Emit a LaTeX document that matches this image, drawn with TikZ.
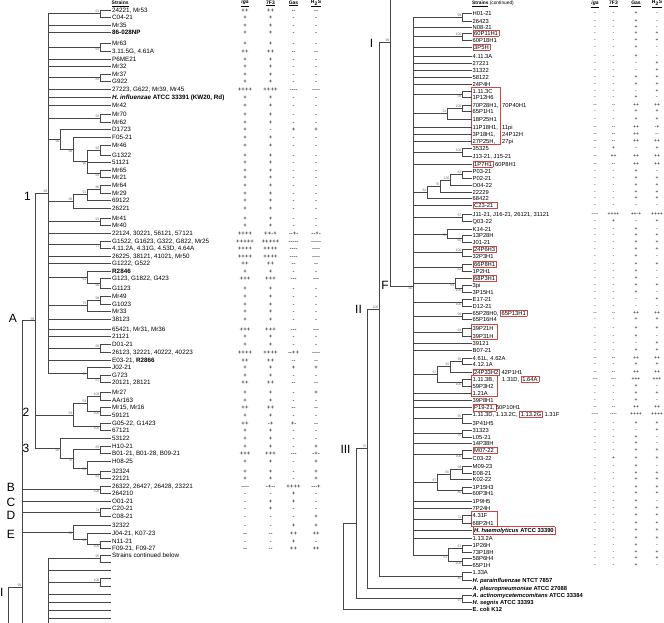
\documentclass[tikz,border=0pt]{standalone}
\usepackage{fontspec}
\setmainfont{Liberation Sans}
\newfontfamily\markfont{Liberation Sans}[Ligatures=TeXOff]
\usepackage{xcolor}
\definecolor{boxred}{RGB}{205,70,70}
\definecolor{treegray}{RGB}{70,70,70}

\tikzset{
  branch/.style={draw=treegray, line width=0.5pt},
  lstrain/.style={anchor=west, inner sep=1pt, text height=4.5pt, text depth=0pt, font=\fontsize{6.3}{7}\selectfont},
  rstrain/.style={anchor=west, inner sep=1pt, text height=4.15pt, text depth=0pt, font=\fontsize{5.8}{6.5}\selectfont},
  lmark/.style={inner sep=0pt, text height=4.3pt, text depth=0pt, font=\markfont\fontsize{6}{6.5}\selectfont},
  rmark/.style={inner sep=0pt, text height=3.6pt, text depth=0pt, font=\markfont\fontsize{5}{5.5}\selectfont},
  boot/.style={inner sep=0.4pt, text=black!55, font=\fontsize{3.5}{3.7}\selectfont},
  cladelbl/.style={inner sep=0pt, font=\fontsize{12}{12}\selectfont},
  head/.style={inner sep=0pt, font=\fontsize{5}{6}\selectfont\bfseries},
  groupbox/.style={draw=boxred, line width=0.6pt}
}

% one strain row: name, y, text, iga, 7F3, gas, H2S
\newcommand{\lrow}[7]{%
  \node[lstrain] (#1) at (111,#2) {#3};
  \node[lmark] (#1a) at (245,#2) {#4};
  \node[lmark] (#1b) at (270.5,#2) {#5};
  \node[lmark] (#1c) at (293.5,#2) {#6};
  \node[lmark] (#1d) at (316,#2) {#7};}
\newcommand{\rrow}[7]{%
  \node[rstrain] (#1) at (471.5,#2) {#3};
  \node[rmark] (#1a) at (595,#2) {#4};
  \node[rmark] (#1b) at (613.5,#2) {#5};
  \node[rmark] (#1c) at (636,#2) {#6};
  \node[rmark] (#1d) at (657,#2) {#7};}
% inner node of the tree with its bootstrap value
\newcommand{\clade}[5]{%
  \coordinate (#1) at (#2,#3);
  \node[boot,#5] (#1bs) at (#1) {#4};}
\newcommand{\twig}[3]{\draw[branch] (#1) |- (#2.west) (#1) |- (#3.west);}
\newcommand{\boxit}[1]{{\setlength{\fboxsep}{1pt}\setlength{\fboxrule}{0.5pt}\fcolorbox{boxred}{white}{#1}}}
\newcommand{\boxitw}[1]{\boxit{\makebox[22pt][l]{#1}}}
\newcommand{\padto}[1]{\makebox[29.5pt][l]{#1}}

\begin{document}
\begin{tikzpicture}[x=1pt,y=-1pt]
\path[fill=white, use as bounding box] (0,0) rectangle (664,623);

% headers
\node[head, anchor=west] (hstrainsL) at (111.5,3.5) {\underline{Strains}};
\node[head] (higaL) at (245,3.5) {\underline{\textit{iga}}};
\node[head] (h7f3L) at (270.5,3.5) {\underline{7F3}};
\node[head] (hgasL) at (293.5,3.5) {\underline{Gas}};
\node[head] (hh2sL) at (316,3.5) {\underline{H\textsubscript{2}S}};
\node[head, anchor=west, font=\fontsize{4.8}{6}\selectfont] (hstrainsR) at (472,4) {\textbf{\underline{Strains}} (continued)};
\node[head] (higaR) at (595,4) {\underline{\textit{iga}}};
\node[head] (h7f3R) at (613.5,4) {\underline{7F3}};
\node[head] (hgasR) at (636,4) {\underline{Gas}};
\node[head] (hh2sR) at (657,4) {\underline{H\textsubscript{2}S}};

% left column of strains
\lrow{s24221}{10}{24221, Mr53}{++}{++}{--}{--}
\lrow{sC0421}{17}{C04-21}{+}{+}{-}{-}
\lrow{sMr35}{25}{Mr35}{+}{+}{-}{-}
\lrow{s86028NP}{32}{\textbf{86-028NP}}{+}{+}{-}{-}
\lrow{sMr63}{43}{Mr63}{+}{+}{-}{-}
\lrow{s3115G}{51}{3.11.5G, 4.61A}{++}{++}{--}{--}
\lrow{sP6ME21}{59}{P6ME21}{+}{+}{-}{-}
\lrow{sMr32}{66}{Mr32}{+}{+}{-}{-}
\lrow{sMr37}{74}{Mr37}{+}{+}{-}{-}
\lrow{sG922}{81}{G922}{+}{+}{-}{-}
\lrow{s27223}{89}{27223, G622, Mr39, Mr45}{++++}{++++}{----}{----}
\lrow{sKW20}{97}{\textbf{\textit{H. influenzae} ATCC 33391 (KW20, Rd)}}{+}{+}{-}{-}
\lrow{sMr42}{105}{Mr42}{+}{+}{-}{-}
\lrow{sMr70}{114}{Mr70}{+}{+}{-}{-}
\lrow{sMr62}{122}{Mr62}{+}{+}{-}{-}
\lrow{sD1723}{129}{D1723}{+}{-}{+}{+}
\lrow{sF0521}{137}{F05-21}{+}{+}{-}{-}
\lrow{sMr46}{145}{Mr46}{+}{+}{-}{-}
\lrow{sG1322}{155}{G1322}{+}{+}{-}{-}
\lrow{s51121}{162}{51121}{+}{+}{-}{-}
\lrow{sMr65}{170}{Mr65}{+}{+}{-}{-}
\lrow{sMr21}{177}{Mr21}{+}{+}{-}{-}
\lrow{sMr64}{185}{Mr64}{+}{+}{-}{-}
\lrow{sMr29}{193}{Mr29}{+}{+}{-}{-}
\lrow{s69122}{200}{69122}{+}{+}{-}{-}
\lrow{s26221}{208}{26221}{+}{+}{-}{-}
\lrow{sMr41}{218}{Mr41}{+}{+}{-}{-}
\lrow{sMr40}{225}{Mr40}{+}{+}{-}{-}
\lrow{s22124}{233}{22124, 30221, 56121, 57121}{++++}{++-+}{--+-}{--+-}
\lrow{sG1522}{241}{G1522, G1623, G322, G822, Mr25}{+++++}{+++++}{-----}{-----}
\lrow{s4112A}{248}{4.11.2A, 4.31G, 4.53D, 4.64A}{++++}{++++}{----}{----}
\lrow{s26225}{256}{26225, 38121, 41021, Mr50}{++++}{++++}{----}{----}
\lrow{sG1222}{263}{G1222, G522}{++}{++}{--}{--}
\lrow{sR2846}{271}{\textbf{R2846}}{+}{+}{-}{-}
\lrow{sG123}{278}{G123, G1822, G423}{+++}{+++}{---}{---}
\lrow{sG1123}{288}{G1123}{+}{+}{-}{-}
\lrow{sMr49}{296}{Mr49}{+}{+}{-}{-}
\lrow{sG1023}{304}{G1023}{+}{+}{-}{-}
\lrow{sMr33}{311}{Mr33}{+}{+}{-}{-}
\lrow{s38123}{319}{38123}{+}{+}{-}{-}
\lrow{s65421}{329}{65421, Mr31, Mr36}{+++}{+++}{---}{---}
\lrow{s21121}{336}{21121}{+}{+}{-}{-}
\lrow{sD0121}{344}{D01-21}{+}{+}{-}{-}
\lrow{s26123}{352}{26123, 32221, 40222, 40223}{++++}{++++}{--++}{----}
\lrow{sE0321}{360}{E03-21, \textbf{R2866}}{++}{++}{--}{--}
\lrow{sJ0221}{367}{J02-21}{+}{+}{+}{+}
\lrow{sG723}{375}{G723}{+}{+}{-}{-}
\lrow{s20121}{382}{20121, 28121}{++}{++}{--}{--}
\lrow{sMr27}{392}{Mr27}{+}{+}{-}{+}
\lrow{sAAr163}{400}{AAr163}{+}{+}{-}{-}
\lrow{sMr15}{407}{Mr15, Mr16}{++}{++}{--}{--}
\lrow{s59121}{415}{59121}{+}{+}{-}{-}
\lrow{sG0522}{423}{G05-22, G1423}{++}{-+}{+-}{--}
\lrow{s67121}{430}{67121}{+}{+}{-}{-}
\lrow{s53122}{438}{53122}{+}{+}{-}{-}
\lrow{sH1021}{446}{H10-21}{+}{+}{-}{+}
\lrow{sB0121}{453}{B01-21, B01-28, B09-21}{+++}{+++}{---}{-+-}
\lrow{sH0825}{461}{H08-25}{+}{+}{-}{+}
\lrow{s32324}{471}{32324}{+}{+}{-}{+}
\lrow{s22121}{478}{22121}{+}{+}{-}{+}
\lrow{s26322}{486}{26322, 26427, 26428, 23221}{----}{-+--}{++++}{---+}
\lrow{s264210}{493}{264210}{-}{-}{+}{-}
\lrow{sO0121}{501}{O01-21}{-}{+}{+}{-}
\lrow{sC2021}{508}{C20-21}{-}{+}{-}{-}
\lrow{sC0821}{516}{C08-21}{-}{-}{-}{+}
\lrow{s32322}{525}{32322}{-}{-}{+}{+}
\lrow{sJ0421}{533}{J04-21, K07-23}{--}{--}{++}{++}
\lrow{sN1121}{541}{N11-21}{-}{-}{+}{-}
\lrow{sF0921}{548}{F09-21, F09-27}{--}{--}{++}{++}
\node[lstrain] (scont) at (111,555) {Strains continued below};
\node[lstrain] (sx1) at (111,562) {};
\node[lstrain] (sx2) at (111,570) {};
\node[lstrain] (sx3) at (111,578) {};
\node[lstrain] (sx4) at (111,586) {};
\node[lstrain] (sx5) at (111,594) {};
\node[lstrain] (sx6) at (111,602) {};
\node[lstrain] (sx7) at (111,610) {};
\node[lstrain] (sx8) at (111,618) {};

% left tree, cluster 1
\clade{n61}{100}{13.5}{61}{above left}
\clade{n64}{100}{47}{64}{below left}
\clade{n83}{100}{77.5}{83}{below left}
\clade{n93}{100}{118}{93}{above left}
\clade{n92}{100}{150}{92}{above left}
\clade{n93b}{100}{173.5}{93}{below left}
\clade{n90}{87}{161.75}{90}{below left}
\clade{n99b}{73}{149.4}{99}{below left}
\clade{n99a}{60}{139.2}{99}{below left}
\clade{n86}{100}{189}{86}{above left}
\clade{n91b}{87}{194.5}{91}{above left}
\clade{n99c}{73}{201.25}{99}{above left}
\clade{n91}{100}{221.5}{91}{above left}
\clade{n77}{100}{244.5}{77}{below left}
\clade{n99e}{100}{283}{99}{below left}
\clade{n61b}{87}{277}{61}{below left}
\clade{n99f}{100}{300}{99}{above left}
\clade{n75}{87}{305.5}{75}{above left}
\clade{n65}{100}{348}{65}{above left}
\clade{n67b}{100}{378.5}{67}{below left}
\clade{n67a}{87}{372.75}{67}{below left}
\clade{c1}{48}{193.1}{99}{above left}
\twig{n61}{s24221}{sC0421}
\twig{n64}{sMr63}{s3115G}
\twig{n83}{sMr37}{sG922}
\twig{n93}{sMr70}{sMr62}
\twig{n92}{sMr46}{sG1322}
\twig{n93b}{sMr65}{sMr21}
\foreach \c in {n92, s51121.west, n93b}
  \draw[branch] (n90) |- (\c);
\draw[branch] (n99b) |- (sF0521.west) (n99b) |- (n90);
\draw[branch] (n99a) |- (sD1723.west) (n99a) |- (n99b);
\twig{n86}{sMr64}{sMr29}
\draw[branch] (n91b) |- (n86) (n91b) |- (s69122.west);
\draw[branch] (n99c) |- (n91b) (n99c) |- (s26221.west);
\twig{n91}{sMr41}{sMr40}
\twig{n77}{sG1522}{s4112A}
\twig{n99e}{sG123}{sG1123}
\draw[branch] (n61b) |- (sR2846.west) (n61b) |- (n99e);
\twig{n99f}{sMr49}{sG1023}
\draw[branch] (n75) |- (n99f) (n75) |- (sMr33.west);
\twig{n65}{sD0121}{s26123}
\twig{n67b}{sG723}{s20121}
\draw[branch] (n67a) |- (sJ0221.west) (n67a) |- (n67b);
\foreach \c in {n61, sMr35.west, s86028NP.west, n64, sP6ME21.west, sMr32.west, n83,
    s27223.west, sKW20.west, sMr42.west, n93, n99a, n99c, n91, s22124.west, n77,
    s26225.west, sG1222.west, n61b, n75, s38123.west, s65421.west, s21121.west, n65,
    sE0321.west, n67a}
  \draw[branch] (c1) |- (\c);

% clusters 2 and 3
\clade{n100a}{100}{396}{100}{above left}
\clade{n100b}{100}{411}{100}{below left}
\clade{n63}{87}{403.5}{63}{above left}
\clade{n100c}{100}{426.5}{100}{below left}
\clade{c2}{73}{415}{93}{above left}
\clade{n83b}{100}{449.5}{83}{above left}
\clade{n63b}{100}{474.5}{63}{below left}
\clade{n80}{87}{467.75}{80}{below left}
\clade{n75b}{73}{458.6}{75}{below left}
\clade{c3}{60}{448.3}{99}{below left}
\clade{cA}{35}{320.7}{99}{above left}
\twig{n100a}{sMr27}{sAAr163}
\twig{n100b}{sMr15}{s59121}
\draw[branch] (n63) |- (n100a) (n63) |- (n100b);
\twig{n100c}{sG0522}{s67121}
\draw[branch] (c2) |- (n63) (c2) |- (n100c);
\twig{n83b}{sH1021}{sB0121}
\twig{n63b}{s32324}{s22121}
\draw[branch] (n80) |- (sH0825.west) (n80) |- (n63b);
\draw[branch] (n75b) |- (n83b) (n75b) |- (n80);
\draw[branch] (c3) |- (s53122.west) (c3) |- (n75b);
\foreach \c in {c1, c2, c3}
  \draw[branch] (cA) |- (\c);

% clades B to E and the cut part below
\clade{nB}{100}{489.5}{100}{below left}
\clade{nD}{100}{512}{74}{above left}
\clade{n100d}{100}{544.5}{100}{below left}
\clade{n96}{87}{538.75}{96}{below left}
\clade{cE}{73}{531.9}{95}{below left}
\clade{cI}{22}{587}{99}{above left}
\clade{n95}{100}{558.5}{95}{above left}
\clade{n100e}{100}{582}{100}{above left}
\coordinate (pI) at (8,623);
\coordinate (cutI) at (22,623);
\coordinate (cutC) at (48,623);
\twig{nB}{s26322}{s264210}
\twig{nD}{sC2021}{sC0821}
\twig{n100d}{sN1121}{sF0921}
\draw[branch] (n96) |- (sJ0421.west) (n96) |- (n100d);
\draw[branch] (cE) |- (s32322.west) (cE) |- (n96);
\foreach \c in {cA, nB, sO0121.west, nD, cE}
  \draw[branch] (cI) |- (\c);
\draw[branch] (cI) -- (cutI);
\draw[branch] (pI) |- (cI);
\twig{n95}{scont}{sx1}
\twig{n100e}{sx3}{sx4}
\foreach \c in {n95, sx2.west, n100e, sx5.west, sx6.west, sx7.west, sx8.west}
  \draw[branch] (cutC) |- (\c);

% clade labels
\node[cladelbl] (lab1) at (27.5,196) {1};
\node[cladelbl] (lab2) at (26,412.5) {2};
\node[cladelbl] (lab3) at (26,448) {3};
\node[cladelbl] (labA) at (13,318.5) {A};
\node[cladelbl] (labB) at (11,487.5) {B};
\node[cladelbl] (labC) at (11,502) {C};
\node[cladelbl] (labD) at (11,515) {D};
\node[cladelbl] (labE) at (11,534) {E};
\node[cladelbl] (labI) at (1.8,592) {I};

% right column of strains
\rrow{sH0121}{13}{H01-21}{-}{-}{+}{-}
\rrow{s26423}{21}{26423}{-}{-}{+}{-}
\rrow{sN0821}{27}{N08-21}{-}{-}{+}{-}
\rrow{s60P11H1}{33}{\boxit{60P11H1}}{-}{-}{+}{+}
\rrow{s60P18H1}{40}{60P18H1}{-}{-}{+}{+}
\rrow{s3P5H}{47}{\boxit{3P5H}}{-}{-}{+}{-}
\rrow{s4113A}{56}{4.11.3A}{-}{-}{+}{-}
\rrow{s27221}{63}{27221}{-}{-}{-}{+}
\rrow{s31322}{70}{31322}{-}{-}{-}{+}
\rrow{s58122}{77}{58122}{-}{-}{+}{+}
\rrow{s24P4H}{84}{24P4H}{-}{-}{+}{+}
\rrow{s1113C}{91}{1.11.3C}{-}{-}{-}{+}
\rrow{s1P12H6}{97}{1P12H6}{-}{-}{+}{-}
\rrow{s70P28H1}{105}{\padto{70P28H1,}70P40H1}{--}{--}{++}{++}
\rrow{s65P1H1}{111}{65P1H1}{-}{-}{+}{+}
\rrow{s18P25H1}{119}{18P25H1}{-}{-}{+}{+}
\rrow{s11P18H1}{127}{\padto{11P18H1,}11pi}{--}{--}{++}{-+}
\rrow{s3P18H1}{134}{\padto{3P18H1,}24P12H}{--}{--}{++}{--}
\rrow{s27P25H}{141}{\padto{27P25H,}27pi}{--}{--}{++}{++}
\rrow{s35325}{148}{35325}{-}{+}{-}{+}
\rrow{sJ1321}{156}{J13-21, J15-21}{--}{++}{++}{++}
\rrow{s1P7H1}{164}{\boxit{1P7H1} 60P8H1}{--}{--}{++}{++}
\rrow{sP0321}{171}{P03-21}{-}{-}{+}{-}
\rrow{sP0221}{178}{P02-21}{-}{-}{+}{+}
\rrow{sO0422}{185}{O04-22}{-}{-}{+}{+}
\rrow{s22229}{192}{22229}{-}{-}{+}{+}
\rrow{s68422}{198}{68422}{-}{-}{+}{+}
\rrow{sC2321}{205}{\boxitw{C23-21}}{-}{-}{-}{-}
\rrow{sJ1121}{214}{J11-21, J16-21, 26121, 31121}{----}{++++}{++-+}{++++}
\rrow{sQ0322}{221}{Q03-22}{-}{+}{-}{+}
\rrow{sK1421}{229}{K14-21}{-}{-}{+}{-}
\rrow{s13P28H}{235}{13P28H}{-}{-}{+}{+}
\rrow{sJ0121}{242}{J01-21}{-}{-}{+}{+}
\rrow{s24P6H3}{249}{\boxit{24P6H3}}{-}{-}{+}{+}
\rrow{s32P3H1}{256}{32P3H1}{-}{-}{+}{-}
\rrow{s66P8H1}{264}{\boxit{66P8H1}}{-}{-}{+}{+}
\rrow{s1P2H1}{271}{1P2H1}{-}{-}{+}{-}
\rrow{s68P3H1}{278}{\boxit{68P3H1}}{-}{-}{+}{-}
\rrow{s3pi}{285}{3pi}{-}{-}{+}{+}
\rrow{s3P15H1}{292}{3P15H1}{-}{-}{+}{-}
\rrow{sE1721}{299}{E17-21}{-}{-}{-}{+}
\rrow{sD1221}{306}{D12-21}{-}{-}{-}{-}
\rrow{s65P28H0}{313}{65P28H0, \boxit{65P13H1}}{--}{--}{++}{++}
\rrow{s65P16H4}{319}{65P16H4}{-}{-}{+}{+}
\rrow{s39P21H}{328}{39P21H}{-}{-}{+}{+}
\rrow{s39P31H}{336}{39P31H}{-}{-}{+}{-}
\rrow{s39121}{343}{39121}{-}{-}{-}{+}
\rrow{sB0721}{350}{B07-21}{-}{-}{+}{+}
\rrow{s461L}{358}{4.61L, 4.62A}{--}{--}{++}{++}
\rrow{s4121A}{364}{4.12.1A}{-}{-}{+}{+}
\rrow{s24P33H2}{372}{\boxit{24P33H2} 42P1H1}{--}{--}{++}{++}
\rrow{s1113B}{379}{\padto{1.11.3B,}1.31D, \boxit{1.64A}}{---}{---}{+++}{+++}
\rrow{s59P3H2}{386}{59P3H2}{-}{-}{+}{-}
\rrow{s121A}{393}{1.21A}{-}{-}{+}{+}
\rrow{s39P8H1}{400}{39P8H1}{-}{-}{+}{-}
\rrow{sP1921}{407}{\boxit{P19-21,}50P10H1}{--}{--}{++}{++}
\rrow{s1113D}{414}{1.11.3D, 1.13.2C, \boxit{1.13.2G} 1.31F}{----}{----}{++++}{++++}
\rrow{s3P41H5}{423}{3P41H5}{-}{-}{+}{+}
\rrow{s31323}{430}{31323}{-}{-}{-}{+}
\rrow{sL0521}{437}{L05-21}{-}{-}{+}{-}
\rrow{s14P38H}{443}{14P38H}{-}{-}{+}{-}
\rrow{sM0722}{450}{\boxitw{M07-22}}{-}{-}{+}{+}
\rrow{sC0322}{458}{C03-22}{-}{+}{+}{+}
\rrow{sM0923}{466}{M09-23}{-}{-}{+}{-}
\rrow{sE0821}{473}{E08-21}{-}{-}{+}{+}
\rrow{sK0222}{479}{K02-22}{-}{-}{+}{+}
\rrow{s1P15H3}{487}{1P15H3}{-}{-}{+}{+}
\rrow{s60P3H1}{493}{60P3H1}{-}{-}{+}{+}
\rrow{s1P9H5}{501}{1P9H5}{-}{-}{+}{-}
\rrow{s7P24H}{508}{7P24H}{-}{-}{+}{+}
\rrow{s431F}{515}{4.31F}{-}{-}{+}{+}
\rrow{s68P2H1}{523}{68P2H1}{-}{-}{+}{+}
\rrow{sHhae}{530}{\boxit{\textbf{\textit{H. haemolyticus} ATCC 33390}}}{-}{-}{+}{+}
\rrow{s1132A}{538}{1.13.2A}{-}{-}{+}{+}
\rrow{s1P26H}{545}{1P26H}{-}{-}{+}{-}
\rrow{s73P18H}{552}{73P18H}{-}{-}{+}{+}
\rrow{s58P6H4}{558}{58P6H4}{-}{-}{+}{+}
\rrow{s65P1H}{565}{65P1H}{-}{-}{+}{-}
\node[rstrain] (s133A) at (471.5,572) {1.33A};
\node[rstrain] (sHpara) at (471.5,580) {\textbf{\textit{H. parainfluenzae} NTCT 7857}};
\node[rstrain] (sApleu) at (471.5,588) {\textbf{\textit{A. pleuropneumoniae} ATCC 27088}};
\node[rstrain] (sAact) at (471.5,595) {\textbf{\textit{A. actinomycetemcomitans} ATCC 33384}};
\node[rstrain] (sHseg) at (471.5,602) {\textbf{\textit{H. segnis} ATCC 33393}};
\node[rstrain] (sEcoli) at (471.5,609) {\textbf{E. coli K12}};

% boxes round groups of rows
\draw[groupbox] (471.5,87.3) rectangle (500,144.7);
\draw[groupbox] (471.5,324.5) rectangle (497,339.5);
\draw[groupbox] (471.5,375.5) rectangle (497,396.5);
\draw[groupbox] (471.5,511.5) rectangle (497,526.5);

% right tree, cluster F
\clade{bH0121}{462}{17}{99}{above left}
\clade{b60P11H1}{462}{36.5}{100}{above left}
\clade{b1113C}{462}{94}{58}{below left}
\clade{b70P28H1}{462}{108}{100}{above left}
\clade{m54}{447}{113.5}{54}{above left}
\clade{b35325}{462}{152}{100}{above left}
\clade{bP0321}{462}{174.5}{62}{above left}
\clade{m100}{450}{179.75}{100}{above left}
\clade{m76}{440}{185.9}{76}{above left}
\clade{m81}{427}{192}{81}{above left}
\clade{bJ1121}{462}{217.5}{57}{above left}
\clade{b13P28H}{462}{238.5}{60}{below left}
\clade{m55}{447}{233.75}{55}{below left}
\clade{b24P6H3}{462}{252.5}{100}{above left}
\clade{b66P8H1}{462}{267.5}{62}{below left}
\clade{b3pi}{462}{288.5}{100}{below left}
\clade{m64}{455}{283.25}{64}{below left}
\clade{bE1721}{462}{302.5}{100}{below left}
\clade{b65P28H0}{462}{316}{96}{above left}
\clade{b39P21H}{462}{332}{64}{above left}
\clade{b461L}{462}{361}{99}{above left}
\clade{m82}{450}{366.5}{82}{above left}
\clade{b1113B}{462}{382.5}{100}{below left}
\clade{m67a}{437}{374.5}{67}{above left}
\clade{b1113D}{462}{418.5}{95}{above left}
\clade{b31323}{462}{433.5}{75}{below left}
\clade{bM0722}{462}{454}{100}{below left}
\clade{bM0923}{462}{469.5}{94}{above left}
\clade{m65}{450}{474.25}{65}{above left}
\clade{b1P15H3}{462}{490}{80}{below left}
\clade{m67b}{437}{482.1}{67}{above left}
\clade{b431F}{462}{519}{71}{above left}
\clade{b1P26H}{462}{548.5}{61}{above left}
\clade{b58P6H4}{462}{561.5}{100}{below left}
\clade{m51}{448}{555}{51}{below left}
\clade{fF}{413}{286}{60}{below left}
\twig{bH0121}{sH0121}{s26423}
\twig{b60P11H1}{s60P11H1}{s60P18H1}
\twig{b1113C}{s1113C}{s1P12H6}
\twig{b70P28H1}{s70P28H1}{s65P1H1}
\twig{b35325}{s35325}{sJ1321}
\twig{bP0321}{sP0321}{sP0221}
\twig{bJ1121}{sJ1121}{sQ0322}
\twig{b13P28H}{s13P28H}{sJ0121}
\twig{b24P6H3}{s24P6H3}{s32P3H1}
\twig{b66P8H1}{s66P8H1}{s1P2H1}
\twig{b3pi}{s3pi}{s3P15H1}
\twig{bE1721}{sE1721}{sD1221}
\twig{b65P28H0}{s65P28H0}{s65P16H4}
\twig{b39P21H}{s39P21H}{s39P31H}
\twig{b461L}{s461L}{s4121A}
\twig{b1113B}{s1113B}{s59P3H2}
\twig{b1113D}{s1113D}{s3P41H5}
\twig{b31323}{s31323}{sL0521}
\twig{bM0722}{sM0722}{sC0322}
\twig{bM0923}{sM0923}{sE0821}
\twig{b1P15H3}{s1P15H3}{s60P3H1}
\twig{b431F}{s431F}{s68P2H1}
\twig{b1P26H}{s1P26H}{s73P18H}
\twig{b58P6H4}{s58P6H4}{s65P1H}
\draw[branch] (m54) |- (b70P28H1) (m54) |- (s18P25H1.west);
\draw[branch] (m100) |- (bP0321) (m100) |- (sO0422.west);
\draw[branch] (m76) |- (m100) (m76) |- (s22229.west);
\draw[branch] (m81) |- (m76) (m81) |- (s68422.west);
\draw[branch] (m55) |- (sK1421.west) (m55) |- (b13P28H);
\draw[branch] (m64) |- (s68P3H1.west) (m64) |- (b3pi);
\draw[branch] (m82) |- (b461L) (m82) |- (s24P33H2.west);
\draw[branch] (m67a) |- (m82) (m67a) |- (b1113B);
\draw[branch] (m65) |- (bM0923) (m65) |- (sK0222.west);
\draw[branch] (m67b) |- (m65) (m67b) |- (b1P15H3);
\draw[branch] (m51) |- (b1P26H) (m51) |- (b58P6H4);
\foreach \c in {bH0121, sN0821.west, b60P11H1, s3P5H.west, s4113A.west, s27221.west,
    s31322.west, s58122.west, s24P4H.west, b1113C, m54, s11P18H1.west, s3P18H1.west,
    s27P25H.west, b35325, s1P7H1.west, m81, sC2321.west, bJ1121, m55, b24P6H3,
    b66P8H1, m64, bE1721, b65P28H0, b39P21H, s39121.west, sB0721.west, m67a,
    s121A.west, s39P8H1.west, sP1921.west, b1113D, b31323, s14P38H.west, bM0722,
    m67b, s1P9H5.west, s7P24H.west, b431F, sHhae.west, s1132A.west, m51}
  \draw[branch] (fF) |- (\c);

% deeper nodes and outgroups
\clade{b133A}{462}{576}{40}{below left}
\clade{bAact}{462}{598.5}{97}{below left}
\clade{cIR}{390}{42}{99}{above left}
\clade{cII}{379}{309}{100}{above left}
\clade{cIII}{367}{448.5}{75}{above left}
\coordinate (cIV) at (356,523.5);
\coordinate (rootR) at (343,566);
\coordinate (cutR) at (390,0);
\twig{b133A}{s133A}{sHpara}
\twig{bAact}{sAact}{sHseg}
\draw[branch] (cIR) |- (fF);
\draw[branch] (cIR) -- (cutR);
\draw[branch] (cII) |- (cIR) (cII) |- (b133A);
\draw[branch] (cIII) |- (cII) (cIII) |- (sApleu.west);
\draw[branch] (cIV) |- (cIII) (cIV) |- (bAact);
\draw[branch] (rootR) |- (cIV) (rootR) |- (sEcoli.west);

\node[cladelbl] (labIR) at (371.5,43) {I};
\node[cladelbl] (labII) at (358.5,309.5) {II};
\node[cladelbl] (labIII) at (345.5,449) {III};
\node[cladelbl] (labF) at (385,285.5) {F};
\end{tikzpicture}
\end{document}
